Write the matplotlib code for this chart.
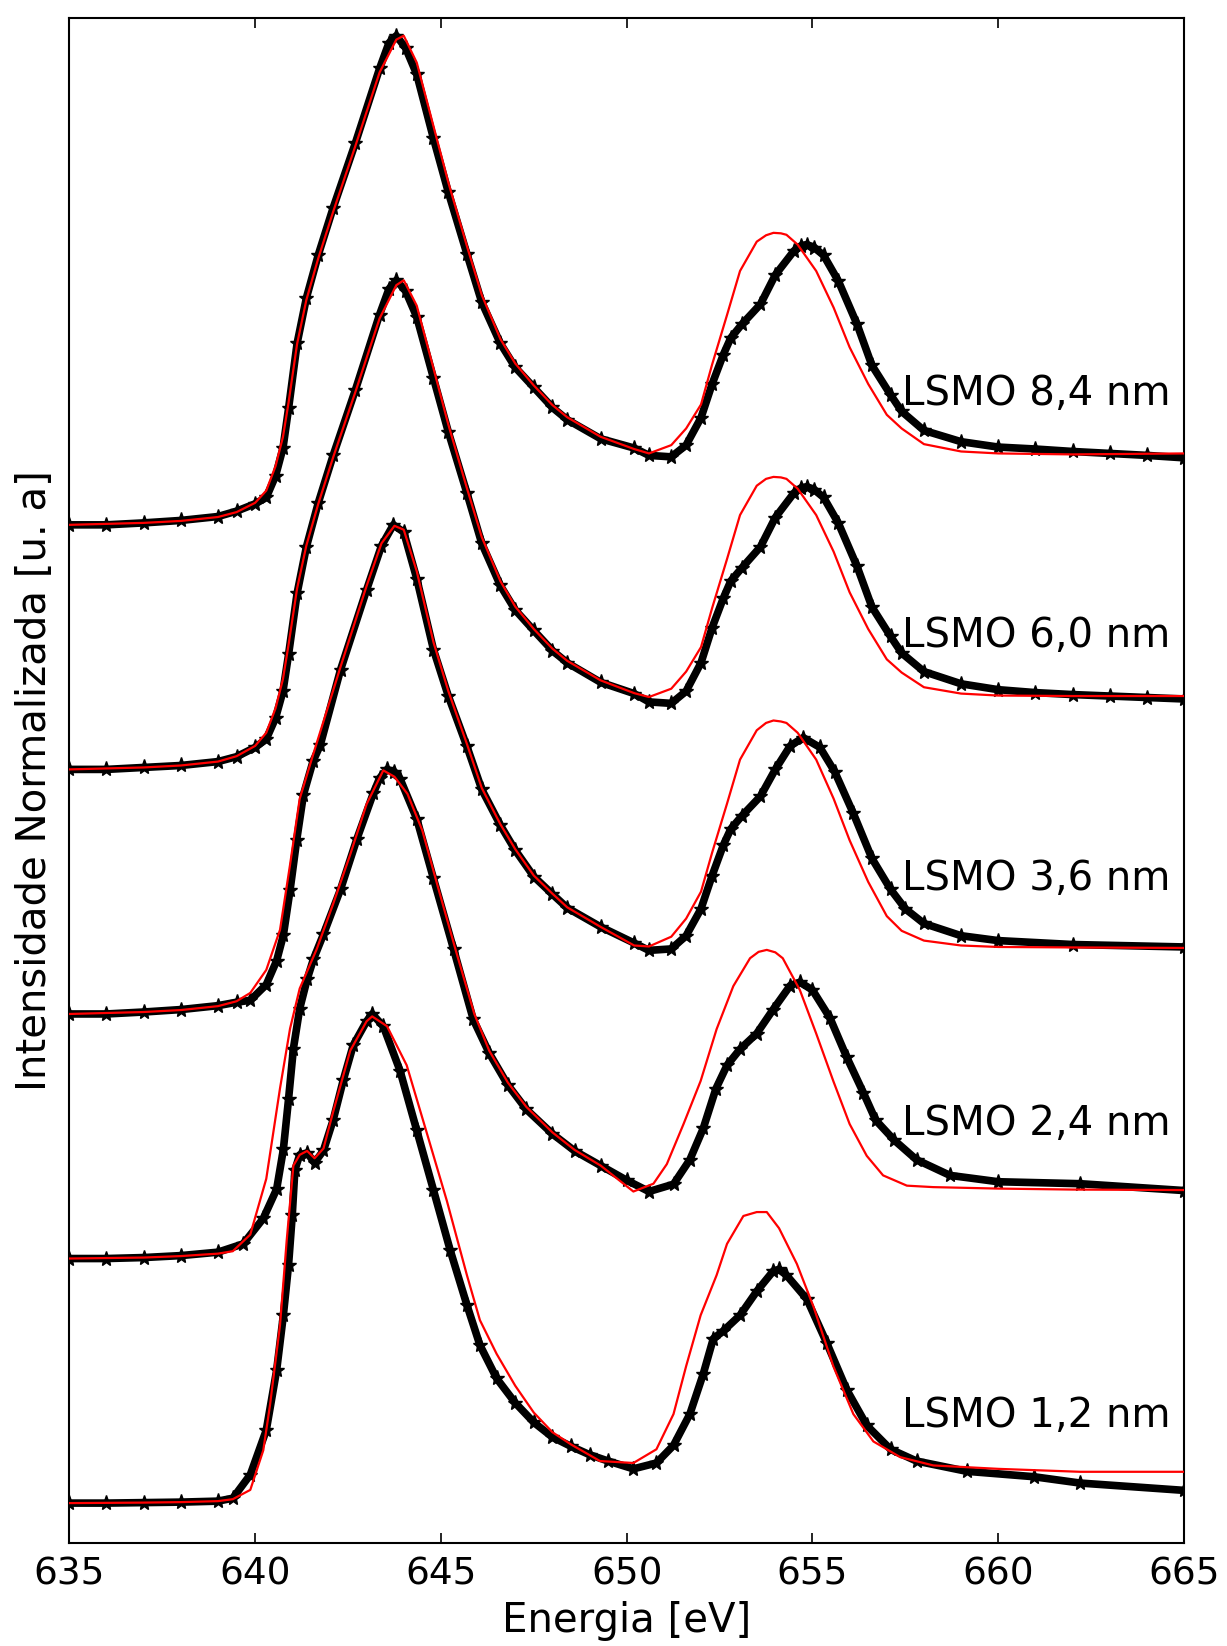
import matplotlib
matplotlib.use("Agg")
import matplotlib.pyplot as plt

# Mn L-edge spectra, normalised (0 = pre-edge, 1 = L3 maximum); black = measured, red = reference
labels = ["LSMO 1,2 nm", "LSMO 2,4 nm", "LSMO 3,6 nm", "LSMO 6,0 nm", "LSMO 8,4 nm"]
offsets = [0.0, 0.5, 1.0, 1.5, 2.0]

# LSMO 1,2 nm
e12 = [635, 636, 637, 638, 639, 639.4, 639.87, 640.3, 640.58, 640.76, 640.9, 641.0, 641.07, 641.2, 641.4,
       641.6, 641.84, 642.1, 642.37, 642.64, 643.0, 643.15, 643.45, 643.9, 644.35, 644.8, 645.25, 645.7, 646.05,
       646.5, 647.0, 647.5, 648.0, 648.5, 649.0, 649.5, 650.18, 650.8, 651.26, 651.7, 652.06, 652.33, 652.6,
       653.05, 653.5, 653.94, 654.1, 654.3, 654.85, 655.38, 655.92, 656.46, 657.1, 657.8, 659.15, 660.95,
       662.2, 665]
i12 = [0, 0, 0.001, 0.002, 0.004, 0.01, 0.058, 0.149, 0.272, 0.384, 0.487, 0.589, 0.681, 0.712, 0.716,
       0.696, 0.721, 0.783, 0.864, 0.936, 0.985, 1.0, 0.975, 0.884, 0.762, 0.64, 0.517, 0.405, 0.323,
       0.255, 0.205, 0.165, 0.135, 0.116, 0.099, 0.086, 0.07, 0.082, 0.118, 0.182, 0.264, 0.336, 0.352,
       0.384, 0.433, 0.474, 0.478, 0.466, 0.417, 0.328, 0.232, 0.159, 0.11, 0.086, 0.065, 0.054,
       0.041, 0.026]
e12_ref = [635, 637, 638, 639, 639.4, 639.87, 640.22, 640.4, 640.67, 640.85, 641.03, 641.2, 641.4, 641.6,
           641.84, 642.1, 642.56, 643.0, 643.15, 643.55, 644.08, 644.6, 645.16, 645.7, 646.05, 646.5, 647.0,
           647.5, 648.0, 648.5, 649.28, 650.18, 650.8, 651.26, 651.6, 651.99, 652.42, 652.7, 653.14, 653.5,
           653.77, 654.1, 654.58, 655.03, 655.56, 656.1, 656.64, 657.36, 658.25, 660, 662.2, 665]
i12_ref = [0, 0.001, 0.002, 0.004, 0.008, 0.027, 0.108, 0.2, 0.364, 0.537, 0.69, 0.712, 0.72, 0.705,
           0.725, 0.8, 0.925, 0.985, 0.995, 0.975, 0.895, 0.762, 0.618, 0.466, 0.374, 0.305, 0.24,
           0.185, 0.145, 0.12, 0.086, 0.082, 0.11, 0.182, 0.28, 0.384, 0.466, 0.53, 0.587, 0.595,
           0.595, 0.562, 0.489, 0.401, 0.28, 0.182, 0.126, 0.094, 0.077, 0.07, 0.064, 0.064]

# LSMO 2,4 nm
e24 = [635, 636, 637, 638, 639, 639.68, 640.22, 640.58, 640.76, 640.9, 641.03, 641.2, 641.4, 641.57, 641.84,
       642.3, 642.74, 643.18, 643.35, 643.55, 643.75, 643.9, 644.35, 644.8, 645.34, 645.87, 646.3, 646.8,
       647.3, 648.0, 648.6, 649.3, 650.0, 650.6, 651.26, 651.7, 652.06, 652.4, 652.7, 653.05, 653.5, 653.94,
       654.4, 654.66, 655.0, 655.47, 655.92, 656.37, 656.7, 657.2, 657.8, 658.7, 660.0, 662.2, 665]
i24 = [0, 0, 0.002, 0.006, 0.013, 0.03, 0.082, 0.142, 0.223, 0.326, 0.429, 0.511, 0.571, 0.612, 0.663,
       0.755, 0.858, 0.951, 0.982, 1.0, 0.995, 0.981, 0.899, 0.777, 0.633, 0.489, 0.42, 0.355,
       0.305, 0.255, 0.22, 0.19, 0.16, 0.137, 0.152, 0.202, 0.266, 0.347, 0.395, 0.428, 0.46, 0.509,
       0.558, 0.565, 0.549, 0.492, 0.412, 0.339, 0.283, 0.242, 0.202, 0.17, 0.157, 0.153, 0.139]
e24_ref = [635, 637, 638, 639, 639.4, 639.87, 640.3, 640.67, 640.94, 641.2, 641.66, 642.1, 642.56, 643.0,
           643.45, 643.75, 644.1, 644.5, 644.9, 645.4, 645.9, 646.3, 646.8, 647.3, 648.0, 648.6, 649.3, 650.18,
           650.72, 651.08, 651.53, 651.99, 652.42, 652.87, 653.32, 653.55, 653.77, 654.0, 654.2, 654.66, 655.1,
           655.56, 656.0, 656.46, 656.9, 657.54, 658.25, 660, 662, 665]
i24_ref = [0, 0.002, 0.005, 0.01, 0.015, 0.049, 0.163, 0.348, 0.47, 0.552, 0.633, 0.725, 0.826, 0.929,
           0.998, 0.985, 0.95, 0.875, 0.765, 0.63, 0.5, 0.425, 0.36, 0.31, 0.258, 0.222, 0.19, 0.137,
           0.153, 0.193, 0.275, 0.363, 0.469, 0.557, 0.614, 0.627, 0.631, 0.626, 0.614, 0.549, 0.46,
           0.363, 0.275, 0.21, 0.17, 0.149, 0.146, 0.143, 0.141, 0.14]

# LSMO 3,6 nm
e36 = [635, 636, 637, 638, 639, 639.5, 639.87, 640.3, 640.58, 640.76, 640.94, 641.12, 641.3, 641.56, 641.75,
       642.3, 643.0, 643.4, 643.72, 644.0, 644.35, 644.8, 645.2, 645.7, 646.1, 646.6, 647.0, 647.5, 648.0,
       648.4, 649.3, 650.2, 650.6, 651.2, 651.6, 652.0, 652.3, 652.6, 652.8, 653.1, 653.6, 654.0, 654.4,
       654.75, 655.2, 655.6, 656.1, 656.6, 657.1, 657.5, 658.0, 659.0, 660.0, 662.0, 665]
i36 = [0, 0, 0.004, 0.009, 0.017, 0.024, 0.028, 0.06, 0.109, 0.161, 0.253, 0.356, 0.448, 0.517, 0.549,
       0.704, 0.867, 0.957, 1.0, 0.985, 0.89, 0.745, 0.65, 0.547, 0.459, 0.386, 0.335, 0.281, 0.245,
       0.217, 0.178, 0.145, 0.13, 0.133, 0.16, 0.215, 0.283, 0.345, 0.378, 0.405, 0.445, 0.5, 0.548,
       0.565, 0.545, 0.495, 0.41, 0.318, 0.255, 0.215, 0.185, 0.16, 0.15, 0.142, 0.137]
e36_ref = [635, 637, 638, 639, 639.5, 639.87, 640.3, 640.67, 640.94, 641.2, 641.56, 642.3, 643.0, 643.4,
           643.75, 644.0, 644.35, 644.8, 645.2, 645.7, 646.1, 646.6, 647.0, 647.5, 648.0, 648.4, 649.3, 650.2,
           650.6, 651.2, 651.6, 652.0, 652.3, 652.7, 653.05, 653.5, 653.75, 653.95, 654.15, 654.3, 654.6, 655.1,
           655.57, 656.0, 656.5, 657.0, 657.4, 658.0, 659.0, 660.0, 662.0, 665]
i36_ref = [0, 0.004, 0.008, 0.016, 0.026, 0.043, 0.09, 0.172, 0.305, 0.44, 0.53, 0.71, 0.875, 0.962,
           0.998, 0.99, 0.905, 0.76, 0.66, 0.552, 0.462, 0.388, 0.337, 0.283, 0.246, 0.218, 0.178, 0.14,
           0.138, 0.158, 0.195, 0.25, 0.33, 0.43, 0.52, 0.58, 0.595, 0.6, 0.598, 0.595, 0.575, 0.52,
           0.44, 0.355, 0.27, 0.2, 0.17, 0.15, 0.14, 0.137, 0.136, 0.135]

# LSMO 6,0 nm
e60 = [635, 636, 637, 638, 639, 639.5, 640.0, 640.3, 640.55, 640.75, 640.9, 641.13, 641.38, 641.7, 642.1,
       642.7, 643.35, 643.6, 643.8, 644.05, 644.35, 644.8, 645.2, 645.7, 646.1, 646.6, 647.0, 647.5, 648.0,
       648.4, 649.3, 650.2, 650.6, 651.2, 651.6, 652.0, 652.3, 652.6, 652.8, 653.1, 653.6, 654.0, 654.5,
       654.7, 654.85, 655.05, 655.3, 655.7, 656.2, 656.6, 657.1, 657.4, 658.0, 659.0, 660, 661, 662, 663,
       664, 665]
i60 = [0, 0, 0.004, 0.008, 0.016, 0.026, 0.045, 0.062, 0.105, 0.16, 0.235, 0.36, 0.455, 0.545, 0.642,
       0.776, 0.93, 0.982, 1.0, 0.978, 0.925, 0.8, 0.69, 0.565, 0.462, 0.376, 0.326, 0.284, 0.243,
       0.218, 0.178, 0.155, 0.138, 0.135, 0.16, 0.218, 0.29, 0.35, 0.385, 0.412, 0.455, 0.515, 0.565,
       0.576, 0.578, 0.572, 0.556, 0.503, 0.415, 0.332, 0.272, 0.238, 0.2, 0.175, 0.163, 0.157, 0.153, 0.15,
       0.147, 0.144]
e60_ref = [635, 637, 638, 639, 639.5, 640.0, 640.3, 640.55, 640.75, 640.9, 641.13, 641.38, 641.7, 642.1,
           642.7, 643.35, 643.8, 644.0, 644.35, 644.8, 645.2, 645.7, 646.1, 646.6, 647.0, 647.5, 648.0, 648.4,
           649.3, 650.2, 650.6, 651.2, 651.6, 652.0, 652.3, 652.7, 653.05, 653.5, 653.75, 653.95, 654.15, 654.3,
           654.6, 655.1, 655.57, 656.0, 656.5, 657.0, 657.4, 658.0, 659.0, 660.0, 662.0, 665]
i60_ref = [0, 0.004, 0.008, 0.016, 0.027, 0.048, 0.075, 0.125, 0.185, 0.255, 0.37, 0.458, 0.543, 0.638,
           0.772, 0.922, 0.99, 1.0, 0.948, 0.82, 0.705, 0.575, 0.475, 0.385, 0.333, 0.287, 0.247, 0.222,
           0.182, 0.156, 0.148, 0.165, 0.2, 0.25, 0.33, 0.43, 0.52, 0.58, 0.594, 0.598, 0.597, 0.594,
           0.574, 0.52, 0.445, 0.362, 0.287, 0.225, 0.198, 0.168, 0.155, 0.151, 0.15, 0.15]

# LSMO 8,4 nm
e84 = [635, 636, 637, 638, 639, 639.5, 640.0, 640.3, 640.55, 640.75, 640.9, 641.13, 641.38, 641.7, 642.1,
       642.7, 643.35, 643.6, 643.8, 644.05, 644.35, 644.8, 645.2, 645.7, 646.1, 646.6, 647.0, 647.5, 648.0,
       648.4, 649.3, 650.2, 650.6, 651.2, 651.6, 652.0, 652.3, 652.6, 652.8, 653.1, 653.6, 654.0, 654.5,
       654.7, 654.85, 655.05, 655.3, 655.7, 656.2, 656.6, 657.1, 657.4, 658.0, 659.0, 660, 661, 662, 663,
       664, 665]
i84 = [0, 0, 0.004, 0.009, 0.017, 0.028, 0.043, 0.056, 0.10, 0.157, 0.238, 0.371, 0.464, 0.552, 0.648,
       0.781, 0.933, 0.985, 1.0, 0.975, 0.921, 0.79, 0.68, 0.554, 0.455, 0.371, 0.322, 0.281, 0.24,
       0.215, 0.176, 0.157, 0.142, 0.139, 0.163, 0.219, 0.288, 0.348, 0.382, 0.41, 0.451, 0.511, 0.56,
       0.571, 0.573, 0.567, 0.551, 0.498, 0.41, 0.326, 0.266, 0.232, 0.193, 0.17, 0.159, 0.155, 0.15, 0.146,
       0.142, 0.137]
e84_ref = [635, 637, 638, 639, 639.5, 640.0, 640.3, 640.55, 640.75, 640.9, 641.13, 641.38, 641.7, 642.1,
           642.7, 643.35, 643.8, 644.0, 644.35, 644.8, 645.2, 645.7, 646.1, 646.6, 647.0, 647.5, 648.0, 648.4,
           649.3, 650.2, 650.6, 651.2, 651.6, 652.0, 652.3, 652.7, 653.05, 653.5, 653.75, 653.95, 654.15, 654.3,
           654.6, 655.1, 655.57, 656.0, 656.5, 657.0, 657.4, 658.0, 659.0, 660.0, 662.0, 665]
i84_ref = [0, 0.004, 0.008, 0.016, 0.026, 0.045, 0.07, 0.12, 0.18, 0.25, 0.37, 0.46, 0.545, 0.64,
           0.775, 0.925, 0.992, 1.0, 0.945, 0.815, 0.70, 0.57, 0.47, 0.38, 0.33, 0.285, 0.245, 0.22,
           0.18, 0.155, 0.146, 0.163, 0.197, 0.246, 0.328, 0.429, 0.519, 0.579, 0.592, 0.597, 0.596, 0.593,
           0.573, 0.519, 0.444, 0.363, 0.288, 0.225, 0.197, 0.165, 0.15, 0.146, 0.144, 0.146]

measured = [(e12, i12), (e24, i24), (e36, i36), (e60, i60), (e84, i84)]
reference = [(e12_ref, i12_ref), (e24_ref, i24_ref), (e36_ref, i36_ref), (e60_ref, i60_ref), (e84_ref, i84_ref)]
label_y = [0.178, 0.775, 1.275, 1.773, 2.268]

fig = plt.figure(figsize=(12.27, 16.46), dpi=100)
ax = fig.add_axes([0.0565, 0.0626, 0.9085, 0.9264])

for k in range(5):
    e, i = measured[k]
    ax.plot(e, [v + offsets[k] for v in i], color='black', lw=5.5, marker='*', ms=11,
            solid_joinstyle='round', zorder=2)
    e, i = reference[k]
    ax.plot(e, [v + offsets[k] for v in i], color='red', lw=1.6, solid_joinstyle='round', zorder=3)
    ax.text(657.4, label_y[k], labels[k], fontsize=29, va='center', ha='left')

ax.set_xlim(635, 665)
ax.set_ylim(-0.0815, 3.036)
ax.set_xticks([635, 640, 645, 650, 655, 660, 665])
ax.set_yticks([])
ax.tick_params(axis='x', direction='in', top=True, length=7, width=1.2, labelsize=27, pad=10)
for s in ax.spines.values():
    s.set_linewidth(1.5)
ax.set_xlabel('Energia [eV]', fontsize=29, labelpad=6)
ax.set_ylabel('Intensidade Normalizada [u. a]', fontsize=29, labelpad=10)

fig.savefig('out.png', dpi=100)
